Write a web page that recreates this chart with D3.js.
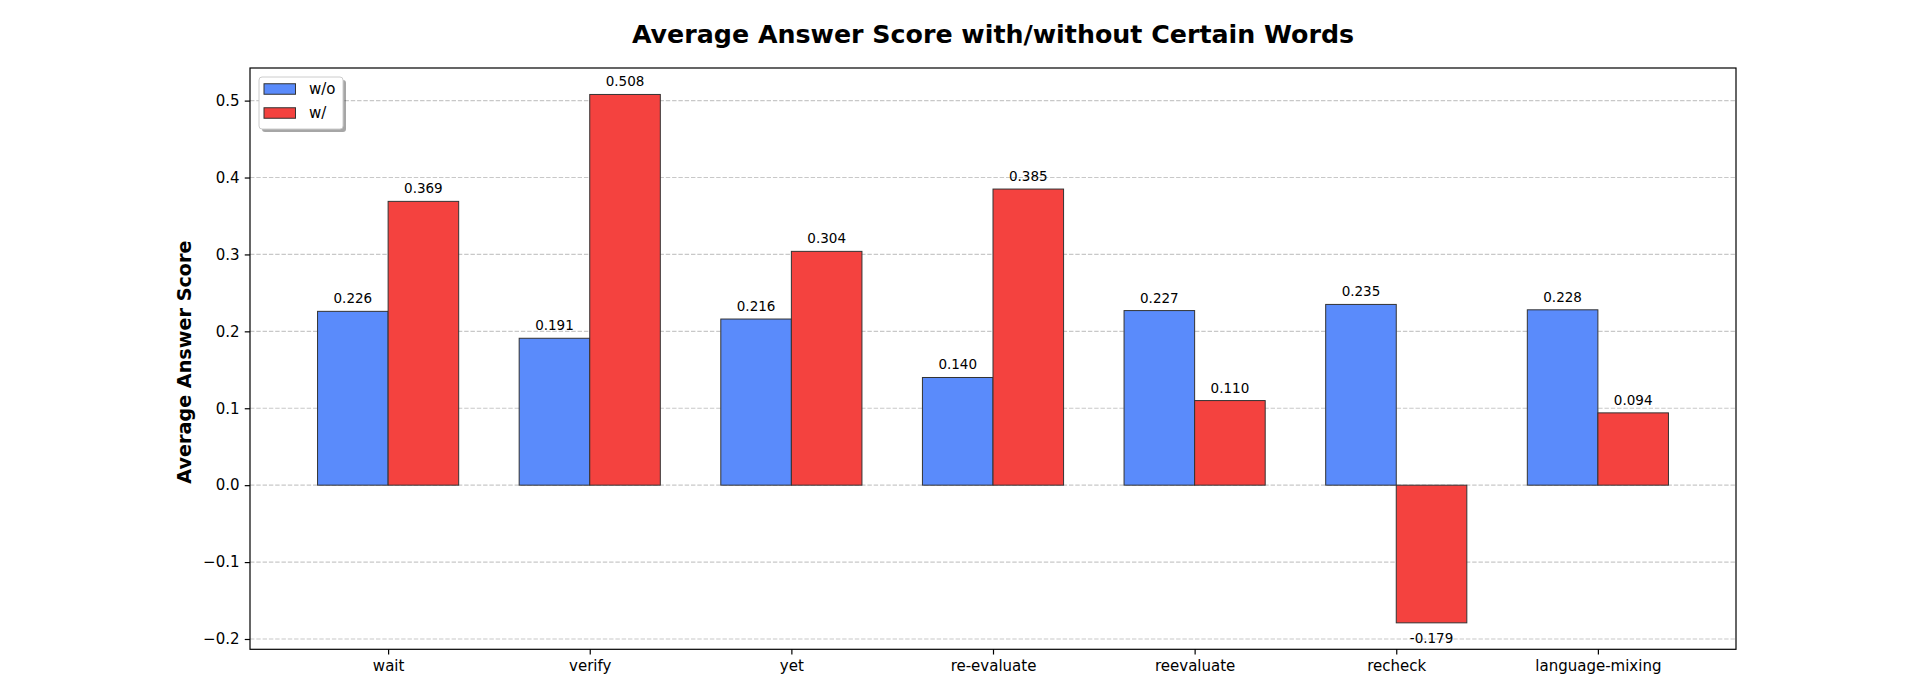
<!DOCTYPE html>
<html>
<head>
<meta charset="utf-8">
<script src="https://cdn.jsdelivr.net/npm/d3@7"></script>
<style>
  html, body { margin: 0; padding: 0; background: #fff; }
  svg { display: block; font-family: "DejaVu Sans", sans-serif; }
</style>
</head>
<body>
<script>
const categories = ["wait", "verify", "yet", "re-evaluate", "reevaluate", "recheck", "language-mixing"];
const withoutValues = [0.226, 0.191, 0.216, 0.140, 0.227, 0.235, 0.228];
const withValues = [0.369, 0.508, 0.304, 0.385, 0.110, -0.179, 0.094];
const seriesNames = ["w/o", "w/"];
const yTicks = [-0.2, -0.1, 0.0, 0.1, 0.2, 0.3, 0.4, 0.5];
const titleText = "Average Answer Score with/without Certain Words";
const yLabelText = "Average Answer Score";

(function () {
const W = 1910, H = 700;
const pL = 250, pR = 1736, pT = 68, pB = 649.3;
const barW = 0.35;
const colors = ["#5a8bfb", "#f4423f"];

const svg = d3.select("body").append("svg").attr("width", W).attr("height", H);

const x = d3.scaleLinear().domain([-0.685, categories.length - 1 + 0.685]).range([pL, pR]);
const y = d3.scaleLinear().domain([-0.2134, 0.5424]).range([pB, pT]);

// grid
svg.append("g").selectAll("line").data(yTicks).join("line")
  .attr("x1", pL).attr("x2", pR)
  .attr("y1", d => y(d)).attr("y2", d => y(d))
  .attr("stroke", "#b0b0b0").attr("stroke-opacity", 0.7)
  .attr("stroke-width", 1.2).attr("stroke-dasharray", "4.4,1.9");

// bars
const series = [withoutValues, withValues];
series.forEach((vals, si) => {
  const g = svg.append("g");
  g.selectAll("rect").data(vals).join("rect")
    .attr("x", (d, i) => x(i + (si === 0 ? -barW : 0)))
    .attr("width", x(barW) - x(0))
    .attr("y", d => y(Math.max(0, d)))
    .attr("height", d => Math.abs(y(d) - y(0)))
    .attr("fill", colors[si])
    .attr("stroke", "#333").attr("stroke-width", 1);
  g.selectAll("text").data(vals).join("text")
    .attr("x", (d, i) => x(i + (si === 0 ? -barW / 2 : barW / 2)))
    .attr("y", d => d >= 0 ? y(d) - 8 : y(d) + 20)
    .attr("text-anchor", "middle")
    .attr("font-size", 13.5).attr("fill", "#000")
    .text(d => d.toFixed(3));
});

// axes
const xAxis = d3.axisBottom(x).tickValues(d3.range(categories.length))
  .tickFormat(i => categories[i]).tickSize(5.25).tickPadding(5.25);
const gx = svg.append("g").attr("transform", `translate(0,${pB})`).call(xAxis);
gx.select(".domain").remove();
gx.selectAll("text").attr("font-size", 15).attr("font-family", "DejaVu Sans").attr("fill", "#000").attr("dy", "0.75em");
gx.selectAll("line").attr("stroke", "#000").attr("stroke-width", 1.2);

const yAxis = d3.axisLeft(y).tickValues(yTicks)
  .tickFormat(d => d3.format(".1f")(d).replace("-", "\u2212")).tickSize(5.25).tickPadding(5.25);
const gy = svg.append("g").attr("transform", `translate(${pL},0)`).call(yAxis);
gy.select(".domain").remove();
gy.selectAll("text").attr("font-size", 15).attr("font-family", "DejaVu Sans").attr("fill", "#000");
gy.selectAll("line").attr("stroke", "#000").attr("stroke-width", 1.2);

// frame
svg.append("rect").attr("x", pL).attr("y", pT).attr("width", pR - pL).attr("height", pB - pT)
  .attr("fill", "none").attr("stroke", "#000").attr("stroke-width", 1.2);

// title
svg.append("text").attr("x", (pL + pR) / 2).attr("y", 43)
  .attr("text-anchor", "middle").attr("font-size", 25.3).attr("font-weight", "bold")
  .text(titleText);

// y label
svg.append("text").attr("transform", `translate(190.5,${y(0.16)}) rotate(-90)`)
  .attr("text-anchor", "middle").attr("font-size", 19.2).attr("font-weight", "bold")
  .text(yLabelText);

// legend
const lg = svg.append("g");
const lx = 259, ly = 77, lw = 84, lh = 52;
lg.append("rect").attr("x", lx + 3).attr("y", ly + 3).attr("width", lw).attr("height", lh)
  .attr("rx", 3).attr("fill", "#000").attr("fill-opacity", 0.35);
lg.append("rect").attr("x", lx).attr("y", ly).attr("width", lw).attr("height", lh)
  .attr("rx", 3).attr("fill", "#fff").attr("stroke", "#cccccc").attr("stroke-width", 1);
seriesNames.forEach((name, i) => {
  const cy = 89 + i * 24;
  lg.append("rect").attr("x", 264).attr("y", cy - 5.25).attr("width", 31.5).attr("height", 10.5)
    .attr("fill", colors[i]).attr("stroke", "#333").attr("stroke-width", 1);
  lg.append("text").attr("x", 309).attr("y", cy + 5.3).attr("font-size", 15).text(name);
});
})();
</script>
</body>
</html>
